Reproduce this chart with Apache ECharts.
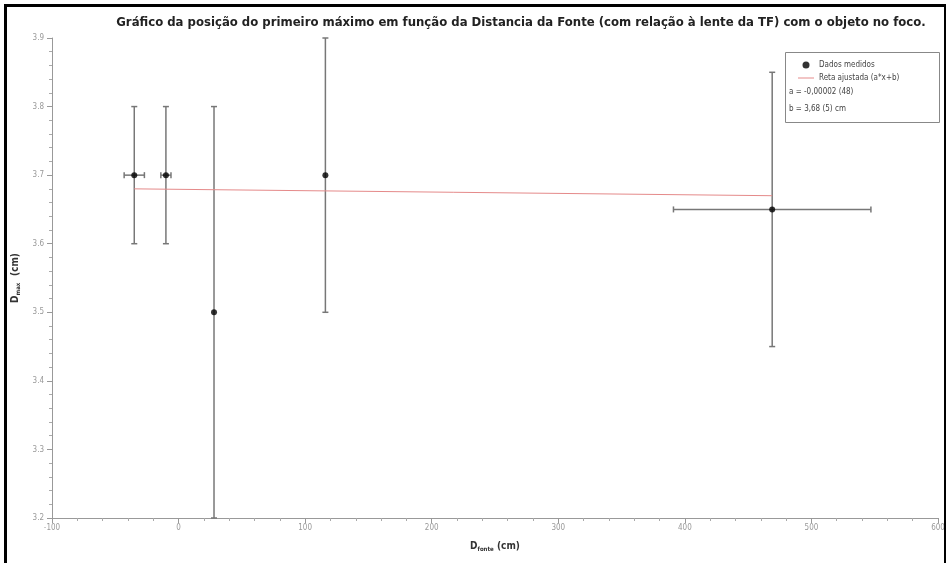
<!DOCTYPE html>
<html>
<head>
<meta charset="utf-8">
<script src="https://cdn.jsdelivr.net/npm/echarts@6/dist/echarts.min.js"></script>
<style>
  html, body { margin: 0; padding: 0; background: #fff; }
  #frame { position: absolute; left: 4px; top: 4px; width: 942px; height: 559px;
           border-top: 3px solid #000; border-left: 3px solid #000; border-right: 2px solid #000; box-sizing: border-box; }
  #chart { position: absolute; left: 0; top: 0; width: 949px; height: 563px; }
</style>
</head>
<body>
<div id="chart"></div>
<div id="frame"></div>
<script>
// measured points
const xVals = [-35, -10, 28, 116, 469];
const yVals = [3.70, 3.70, 3.50, 3.70, 3.65];
const xErr = [8, 4, 0, 0, 78];
const yErr = [0.1, 0.1, 0.3, 0.2, 0.2];

// fitted line (a*x+b), endpoints as drawn
const fitX = [-35, 469];
const fitY = [3.68, 3.67];

const legendLines = ['a = -0,00002 (48)', 'b = 3,68 (5) cm'];

const chart = echarts.init(document.getElementById('chart'));
const font = 'DejaVu Sans Condensed, DejaVu Sans, sans-serif';

const errData = xVals.map((x, i) => [x, yVals[i], xErr[i], yErr[i]]);

const option = {
  animation: false,
  backgroundColor: '#fff',
  title: {
    text: 'Gráfico da posição do primeiro máximo em função da Distancia da Fonte (com relação à lente da TF) com o objeto no foco.',
    left: 516, top: 11, textAlign: 'center',
    textStyle: { fontFamily: font, fontWeight: 'bold', fontSize: 13, color: '#222' }
  },
  grid: { left: 52, right: 11, top: 38, bottom: 45 },
  xAxis: {
    type: 'value', min: -100, max: 600, interval: 100,
    name: '{b|D}{s|fonte} {b|(cm)}', nameLocation: 'middle', nameGap: 22,
    nameTextStyle: { rich: {
      b: { fontFamily: font, fontWeight: 'bold', fontSize: 10, color: '#333' },
      s: { fontFamily: font, fontWeight: 'bold', fontSize: 6, color: '#333', verticalAlign: 'bottom', padding: [6, 0, 0, 0] }
    } },
    axisLine: { onZero: false, lineStyle: { color: '#999', width: 1 } },
    axisTick: { length: 5, lineStyle: { color: '#999' } },
    minorTick: { show: true, splitNumber: 5, length: 3, lineStyle: { color: '#aaa' } },
    axisLabel: { fontFamily: font, fontSize: 8, color: '#999', margin: 6 },
    splitLine: { show: false }
  },
  yAxis: {
    type: 'value', min: 3.2, max: 3.9, interval: 0.1,
    name: '{b|D}{s|max}  {b|(cm)}', nameLocation: 'middle', nameGap: 24, nameRotate: 90,
    nameTextStyle: { rich: {
      b: { fontFamily: font, fontWeight: 'bold', fontSize: 10, color: '#333' },
      s: { fontFamily: font, fontWeight: 'bold', fontSize: 6, color: '#333', verticalAlign: 'bottom', padding: [6, 0, 0, 0] }
    } },
    axisLine: { show: true, onZero: false, lineStyle: { color: '#999', width: 1 } },
    axisTick: { show: true, length: 5, lineStyle: { color: '#999' } },
    minorTick: { show: true, splitNumber: 5, length: 3, lineStyle: { color: '#aaa' } },
    axisLabel: { fontFamily: font, fontSize: 8, color: '#999', margin: 8,
                 formatter: v => v.toFixed(1) },
    splitLine: { show: false }
  },
  legend: {
    orient: 'vertical', left: 793, top: 56, itemGap: 5,
    itemWidth: 16, itemHeight: 7,
    textStyle: { fontFamily: font, fontSize: 8, color: '#444' },
    data: [
      { name: 'Dados medidos', icon: 'circle' },
      { name: 'Reta ajustada (a*x+b)', icon: 'path://M0,0 L16,0 L16,1 L0,1 Z' }
    ]
  },
  graphic: [
    { type: 'rect', left: 783, top: 50, shape: { width: 154, height: 70 },
      style: { fill: 'none', stroke: '#888', lineWidth: 1 }, z: 10 },
    { type: 'text', left: 789, top: 88, z: 10,
      style: { text: legendLines[0], fontFamily: font, fontSize: 8, fill: '#444' } },
    { type: 'text', left: 789, top: 105, z: 10,
      style: { text: legendLines[1], fontFamily: font, fontSize: 8, fill: '#444' } }
  ],
  series: [
    {
      name: 'errors', type: 'custom',
      data: errData,
      renderItem: (params, api) => {
        const x = api.value(0), y = api.value(1), ex = api.value(2), ey = api.value(3);
        const children = [];
        const st = { stroke: '#777', lineWidth: 1.5 };
        const cap = 3;
        const top = api.coord([x, y + ey]), bot = api.coord([x, y - ey]);
        children.push({ type: 'line', shape: { x1: top[0], y1: top[1], x2: bot[0], y2: bot[1] }, style: st });
        children.push({ type: 'line', shape: { x1: top[0] - cap, y1: top[1], x2: top[0] + cap, y2: top[1] }, style: st });
        children.push({ type: 'line', shape: { x1: bot[0] - cap, y1: bot[1], x2: bot[0] + cap, y2: bot[1] }, style: st });
        if (ex > 0) {
          const l = api.coord([x - ex, y]), r = api.coord([x + ex, y]);
          children.push({ type: 'line', shape: { x1: l[0], y1: l[1], x2: r[0], y2: r[1] }, style: st });
          children.push({ type: 'line', shape: { x1: l[0], y1: l[1] - cap, x2: l[0], y2: l[1] + cap }, style: st });
          children.push({ type: 'line', shape: { x1: r[0], y1: r[1] - cap, x2: r[0], y2: r[1] + cap }, style: st });
        }
        return { type: 'group', children };
      },
      z: 2
    },
    {
      name: 'Reta ajustada (a*x+b)', type: 'line',
      data: fitX.map((x, i) => [x, fitY[i]]),
      symbol: 'none', lineStyle: { color: '#e58a8a', width: 1 },
      itemStyle: { color: '#e58a8a' }, z: 3
    },
    {
      name: 'Dados medidos', type: 'scatter',
      data: xVals.map((x, i) => [x, yVals[i]]),
      symbolSize: 6, itemStyle: { color: '#000' }, z: 4
    }
  ]
};
chart.setOption(option);
</script>
</body>
</html>
